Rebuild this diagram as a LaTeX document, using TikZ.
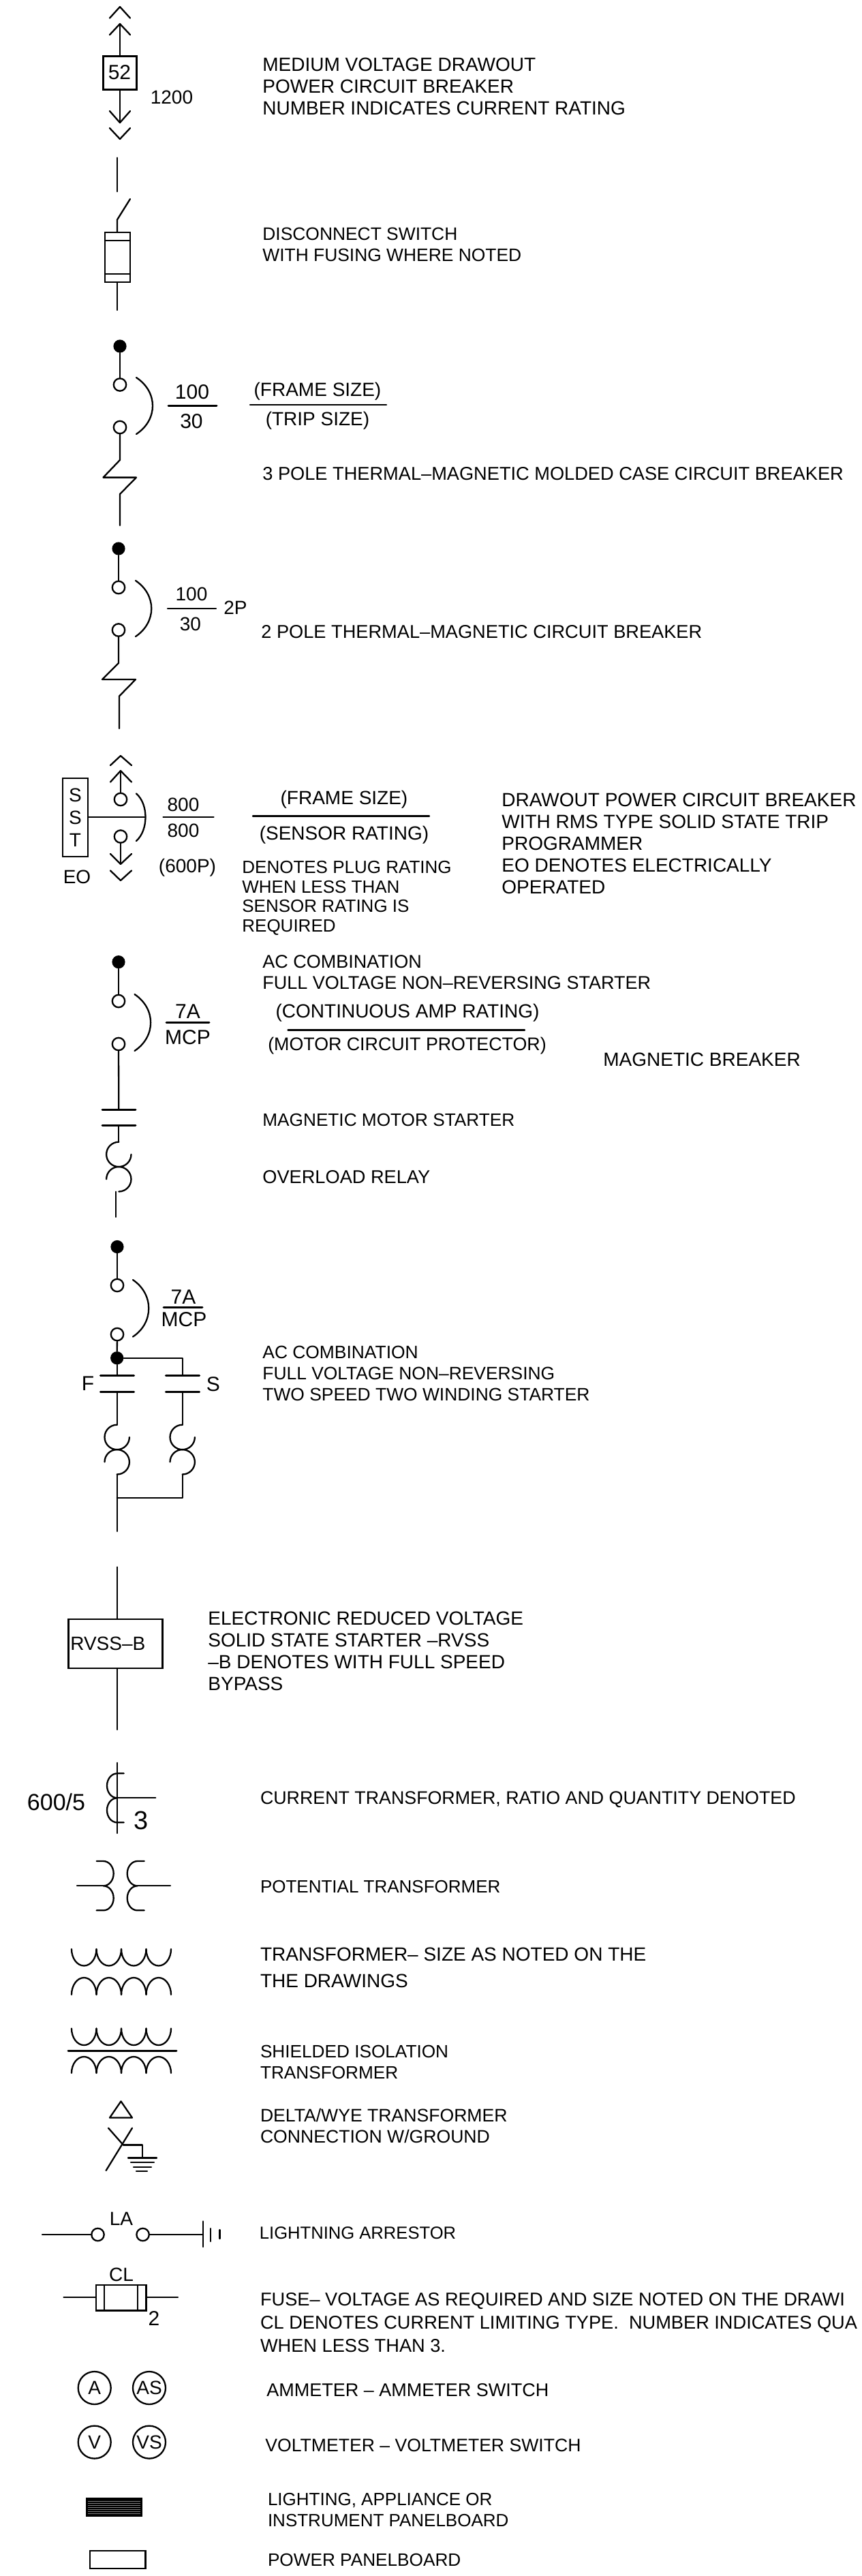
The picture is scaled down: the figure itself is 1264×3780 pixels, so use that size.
\documentclass[tikz,border=0pt]{standalone}
\usepackage{fontspec}
\setmainfont{Liberation Sans}
\tikzset{
    wire/.style={line width=1.15pt,line cap=round,line join=round},
    heavy/.style={line width=1.5pt,line cap=round},
    note/.style 2 args={font=\fontsize{#1}{#2}\selectfont,align=left,anchor=north west,inner sep=0pt},
    lab/.style={font=\fontsize{14}{16}\selectfont,inner sep=0pt},
    tag/.style={font=\fontsize{15}{17}\selectfont,inner sep=0pt},
    contact/.style={circle,draw,line width=1.15pt,minimum size=9.2pt,inner sep=0pt},
    pole/.style={circle,fill=black,minimum size=9.6pt,inner sep=0pt},
    meter/.style={circle,draw,line width=1.15pt,minimum size=24pt,inner sep=0pt,font=\fontsize{14}{16}\selectfont},
    panelbox/.style={draw,line width=1.2pt,inner sep=0pt}
}
\begin{document}
\begin{tikzpicture}[x=.5pt,y=-.5pt]
    \useasboundingbox (0,0) rectangle (1264,3780);

    \node[panelbox,tag,line width=1.5pt,minimum width=24.5pt,minimum height=24.5pt] (b52) at (175.5,106.5) {52};
    \coordinate (a1) at (176,35);
    \coordinate (a2) at (176,180);
    \draw[wire] (161,26.5) -- (176,10) -- (191,26.5);
    \draw[wire] (161,51) -- (a1) -- (191,51);
    \draw[wire] (a1) -- (a1 |- b52.north);
    \draw[wire] (a2 |- b52.south) -- (a2);
    \draw[wire] (161,163) -- (a2) -- (191,163);
    \draw[wire] (161,188) -- (176,204) -- (191,188);
    \node[lab] (r1200) at (252,143) {1200};
    \node[note={14}{16}] (t1) at (385,85) {MEDIUM VOLTAGE DRAWOUT\\POWER CIRCUIT BREAKER\\NUMBER INDICATES CURRENT RATING};

    \coordinate (s1) at (172,231.4);
    \coordinate (s2) at (172,281);
    \coordinate (s3) at (172,322.4);
    \coordinate (s4) at (172,455);
    \node[panelbox,minimum width=18.5pt,minimum height=36.5pt] (fu1) at (172.5,377.5) {};
    \draw[wire] (s1) -- (s2);
    \draw[wire] (191,292) -- (s3) -- (s3 |- fu1.north);
    \draw[wire] (s4 |- fu1.south) -- (s4);
    \draw[wire] (154,353) -- (191,353);
    \draw[wire] (154,402) -- (191,402);
    \node[note={13.2}{15.5}] (t2) at (385,334) {DISCONNECT SWITCH\\WITH FUSING WHERE NOTED};

    \node[pole] (d3) at (176,508) {};
    \node[contact] (o3a) at (176,564.5) {};
    \node[contact] (o3b) at (176,627) {};
    \coordinate (e3) at (176,771);
    \draw[wire] (d3) -- (o3a);
    \draw[wire] (o3b.south) -- (176,675) -- (151.5,700.6) -- (200,700.6) -- (176,725) -- (e3);
    \draw[wire] (200,554) .. controls (232,575) and (232,616) .. (200,637);
    \node[tag] (n3a) at (282,575) {100};
    \node[tag] (n3b) at (281,618) {30};
    \draw[heavy] (247,595.5) -- (318,595.5);
    \node[lab] (f3a) at (466,574) {(FRAME SIZE)};
    \node[lab] (f3b) at (466,617) {(TRIP SIZE)};
    \draw[wire] (367,594) -- (567,594);
    \node[note={13.6}{16}] (t3) at (385,685) {3 POLE THERMAL–MAGNETIC MOLDED CASE CIRCUIT BREAKER};

    \node[pole] (d4) at (174,805) {};
    \node[contact] (o4a) at (174,862) {};
    \node[contact] (o4b) at (174,924.5) {};
    \coordinate (e4) at (175,1069);
    \draw[wire] (d4) -- (o4a);
    \draw[wire] (o4b.south) -- (174,973) -- (150,997) -- (199,997) -- (175,1021.5) -- (e4);
    \draw[wire] (199,852) .. controls (230,873) and (230,913) .. (199,934);
    \node[lab] (n4a) at (281,872) {100};
    \node[lab] (n4b) at (279.5,916) {30};
    \node[lab] (n4c) at (345.5,891.5) {2P};
    \draw[wire] (246,893) -- (317,893);
    \node[note={13.6}{16}] (t4) at (383,917) {2 POLE THERMAL–MAGNETIC CIRCUIT BREAKER};

    \node[contact] (o5a) at (177,1173) {};
    \node[contact] (o5b) at (177,1227.5) {};
    \coordinate (a5) at (177,1131);
    \coordinate (b5) at (177,1268);
    \draw[wire] (162,1123) -- (177,1109) -- (193,1123);
    \draw[wire] (162,1147.5) -- (a5) -- (193,1147.5);
    \draw[wire] (a5) -- (o5a);
    \draw[wire] (o5b) -- (b5);
    \draw[wire] (162,1253) -- (b5) -- (193,1253);
    \draw[wire] (162,1277.5) -- (177,1292) -- (193,1277.5);
    \node[panelbox,font=\fontsize{14}{16.5}\selectfont,align=center,minimum width=18.5pt,minimum height=57.5pt] (sst) at (110.5,1199.5) {S\\S\\T};
    \coordinate (c5) at (213.6,1199);
    \draw[wire] (sst.east |- c5) -- (c5);
    \draw[wire] (200,1164.5) .. controls (218,1180) and (218,1218) .. (200,1234);
    \node[lab] (e5) at (113,1287) {EO};
    \node[lab] (n5a) at (269,1181) {800};
    \node[lab] (n5b) at (269,1219) {800};
    \draw[wire] (239.5,1199) -- (313.6,1199);
    \node[lab] (p5) at (275,1273.5) {(600P)};
    \node[lab] (f5a) at (505,1173) {(FRAME SIZE)};
    \node[lab] (f5b) at (505,1225.5) {(SENSOR RATING)};
    \draw[wire] (371,1197.5) -- (630,1197.5);
    \node[note={13}{14.25}] (t5a) at (355,1263) {DENOTES PLUG RATING\\WHEN LESS THAN\\SENSOR RATING IS\\REQUIRED};
    \node[note={14}{16}] (t5b) at (736,1164) {DRAWOUT POWER CIRCUIT BREAKER\\WITH RMS TYPE SOLID STATE TRIP\\PROGRAMMER\\EO DENOTES ELECTRICALLY\\OPERATED};

    \node[pole] (d6) at (174,1411.6) {};
    \node[contact] (o6a) at (174,1469) {};
    \node[contact] (o6b) at (174,1532) {};
    \coordinate (g6) at (174.3,1628.6);
    \coordinate (h6) at (174.3,1651.5);
    \draw[wire] (d6) -- (o6a);
    \draw[wire] (o6b) -- (g6);
    \draw[heavy] (150,1628.6) -- (199,1628.6);
    \draw[heavy] (150,1651.5) -- (199,1651.5);
    \draw[wire] (h6) -- (174.3,1675.7);
    \draw[wire] (197.5,1459) .. controls (229,1480) and (229,1521) .. (197.5,1542);
    \node[tag] (n6a) at (275.5,1484) {7A};
    \node[tag] (n6b) at (275.5,1522.6) {MCP};
    \draw[heavy] (244,1500.5) -- (307,1500.5);
    \node[note={13.5}{15.5}] (t6a) at (385,1401) {AC COMBINATION\\FULL VOLTAGE NON–REVERSING STARTER};
    \node[lab] (f6a) at (598,1486) {(CONTINUOUS AMP RATING)};
    \node[lab,font=\fontsize{13.4}{16}\selectfont] (f6b) at (597.5,1535) {(MOTOR CIRCUIT PROTECTOR)};
    \draw[wire] (422.5,1511.5) -- (770,1511.5);
    \node[note={14}{16}] (t6b) at (885,1545) {MAGNETIC BREAKER};
    \node[note={13.1}{16}] (t6c) at (385,1634) {MAGNETIC MOTOR STARTER};
    \node[note={13.6}{16}] (t6d) at (385,1717) {OVERLOAD RELAY};
    \coordinate (o61) at (170,1748.6);
    \coordinate (o62) at (170,1785.7);
    \draw[wire] (o61) -- (o62);

    \foreach \x/\y in {174.3/1675.7,171.7/2090.7,267.7/2090.7}{
        \draw[wire] (\x,\y) arc (-90:-360:18.2);
        \draw[wire] (\x-18.2,\y+54.6) arc (-180:90:18.2);
    }

    \node[pole] (d7) at (172,1829.5) {};
    \node[contact] (o7a) at (172,1886) {};
    \node[contact] (o7b) at (172,1958) {};
    \node[pole] (j7) at (171.7,1992.7) {};
    \coordinate (l7) at (171.7,2018);
    \coordinate (k7) at (267.7,1992.7);
    \coordinate (m7) at (267.7,2018);
    \coordinate (p7) at (171.7,2042.3);
    \coordinate (q7) at (267.7,2042.3);
    \coordinate (u7) at (171.7,2198.3);
    \coordinate (v7) at (267.7,2198.3);
    \coordinate (w7) at (171.7,2247);
    \draw[wire] (d7) -- (o7a);
    \draw[wire] (o7b) -- (j7);
    \draw[wire] (j7) -- (l7);
    \draw[wire] (j7) -- (k7) -- (m7);
    \draw[wire] (p7) -- (171.7,2090.7);
    \draw[wire] (q7) -- (267.7,2090.7);
    \draw[wire] (171.7,2163.5) -- (w7);
    \draw[wire] (267.7,2163.5) -- (v7) -- (u7);
    \foreach \x in {147.3,243.3}{
        \draw[heavy] (\x,2018) -- (\x+49.4,2018);
        \draw[heavy] (\x,2042.3) -- (\x+49.4,2042.3);
    }
    \draw[wire] (195,1878) .. controls (226,1899) and (226,1941) .. (195,1961.5);
    \node[tag] (n7a) at (269,1903) {7A};
    \node[tag] (n7b) at (270,1936) {MCP};
    \draw[heavy] (240,1918) -- (297,1918);
    \node[tag] (lf7) at (129,2030) {F};
    \node[tag] (ls7) at (313,2031) {S};
    \node[note={13.2}{15.5}] (t7) at (385,1975) {AC COMBINATION\\FULL VOLTAGE NON–REVERSING\\TWO SPEED TWO WINDING STARTER};

    \node[panelbox,lab,text width=66pt,align=left,inner xsep=1.5pt,minimum height=35.8pt] (rvss) at (169.3,2412) {RVSS–B};
    \coordinate (r1) at (172,2299.4);
    \coordinate (r2) at (172,2538);
    \draw[wire] (r1) -- (r1 |- rvss.north);
    \draw[wire] (r2 |- rvss.south) -- (r2);
    \node[note={14}{16}] (t8) at (305,2365) {ELECTRONIC REDUCED VOLTAGE\\SOLID STATE STARTER –RVSS\\–B DENOTES WITH FULL SPEED\\BYPASS};

    \draw[wire] (172,2586.7) -- (172,2690);
    \draw[wire] (181.7,2602.3) -- (172,2602.3) arc (-90:-270:15 and 18);
    \draw[wire] (172,2638.3) arc (-90:-270:15 and 18) -- (181.7,2674.3);
    \draw[wire] (172,2638.3) -- (228.3,2638.3);
    \node[tag,font=\fontsize{17}{19}\selectfont] (n9a) at (82.5,2644) {600/5};
    \node[tag,font=\fontsize{19}{21}\selectfont] (n9b) at (207,2671.5) {3};
    \node[note={13.4}{16}] (t9) at (381.6,2628) {CURRENT TRANSFORMER, RATIO AND QUANTITY DENOTED};

    \draw[wire] (113,2767.3) -- (151.7,2767.3);
    \draw[wire] (141.7,2731) -- (151.7,2731) arc (-90:90:15 and 18.15) arc (-90:90:15 and 18) -- (141.7,2803.3);
    \draw[wire] (250,2767.3) -- (201.7,2767.3);
    \draw[wire] (211.7,2731) -- (201.7,2731) arc (-90:-270:15 and 18.15) arc (-90:-270:15 and 18) -- (211.7,2803.3);
    \node[note={13}{16}] (t10) at (381.6,2759) {POTENTIAL TRANSFORMER};

    \foreach \i in {0,...,3}{
        \draw[wire] (105+36.5*\i,2860) arc (180:0:18.25 and 24.5);
        \draw[wire] (105+36.5*\i,2927) arc (-180:0:18.25 and 25);
        \draw[wire] (105+36.5*\i,2976.5) arc (180:0:18.25 and 24.5);
        \draw[wire] (105+36.5*\i,3042) arc (-180:0:18.25 and 24);
    }
    \draw[heavy] (100,3009.5) -- (259,3009.5);
    \node[note={14}{19.5}] (t11) at (381.6,2858) {TRANSFORMER– SIZE AS NOTED ON THE\\THE DRAWINGS};
    \node[note={13.1}{15.5}] (t12) at (381.6,3001) {SHIELDED ISOLATION\\TRANSFORMER};

    \draw[wire] (161,3107.5) -- (177.5,3083.4) -- (194,3107.5) -- cycle;
    \coordinate (y1) at (181,3147.6);
    \coordinate (y2) at (209,3147.6);
    \coordinate (y3) at (209,3166.5);
    \draw[wire] (159,3122.6) -- (y1);
    \draw[wire] (194,3122.6) -- (155.6,3185);
    \draw[wire] (y1) -- (y2) -- (y3);
    \draw[wire] (188,3166.5) -- (230,3166.5);
    \draw[wire] (192,3173) -- (226,3173);
    \draw[wire] (196,3180) -- (222,3180);
    \draw[wire] (200,3186) -- (216,3186);
    \node[note={13.3}{15.5}] (t13) at (381.6,3094) {DELTA/WYE TRANSFORMER\\CONNECTION W/GROUND};

    \node[contact] (la1) at (143.5,3279) {};
    \node[contact] (la2) at (209.6,3279) {};
    \coordinate (l1) at (62,3279);
    \coordinate (l2) at (298,3279);
    \draw[wire] (l1) -- (la1);
    \draw[wire] (la2) -- (l2);
    \draw[wire] (298,3259.5) -- (298,3297);
    \draw[wire] (308.7,3270) -- (308.7,3289);
    \draw[wire] (322.5,3272) -- (322.5,3285);
    \node[lab] (n14) at (178,3255.6) {LA};
    \node[note={12.8}{16}] (t14) at (380.5,3267) {LIGHTNING ARRESTOR};

    \node[panelbox,minimum width=36.7pt,minimum height=18.8pt] (fu2) at (177.7,3371.8) {};
    \coordinate (f1) at (93.5,3371);
    \coordinate (f2) at (261,3371);
    \draw[wire] (f1) -- (f1 -| fu2.west);
    \draw[wire] (f2 -| fu2.east) -- (f2);
    \draw[wire] (153,3353) -- (153,3390.6);
    \draw[wire] (202,3353) -- (202,3390.6);
    \node[lab] (n15a) at (178,3338) {CL};
    \node[tag] (n15b) at (226,3401.5) {2};
    \node[note={13.6}{17}] (t15) at (381.6,3364) {FUSE– VOLTAGE AS REQUIRED AND SIZE NOTED ON THE DRAWI\\CL DENOTES CURRENT LIMITING TYPE.\ \ NUMBER INDICATES QUA\\WHEN LESS THAN 3.};

    \node[meter] (ma) at (138.7,3504) {A};
    \node[meter] (mas) at (219,3504) {AS};
    \node[meter] (mv) at (138.7,3583.6) {V};
    \node[meter] (mvs) at (219,3583.6) {VS};
    \node[note={13.5}{16}] (t16) at (391,3497) {AMMETER – AMMETER SWITCH};
    \node[note={13.3}{16}] (t17) at (389,3578.5) {VOLTMETER – VOLTMETER SWITCH};

    \node[fill=black,draw,inner sep=0pt,minimum width=40.8pt,minimum height=13.3pt] (pb1) at (167.5,3679) {};
    \foreach \y in {3670,3673.2,3676.3,3679.3,3682.3,3685.3,3688.3}{
        \draw[gray,line width=.3pt] (129.3,\y) -- (206,\y);
    }
    \node[note={13}{15.5}] (t18) at (392.6,3658) {LIGHTING, APPLIANCE OR\\INSTRUMENT PANELBOARD};

    \node[panelbox,minimum width=40.8pt,minimum height=13pt] (pb2) at (172.8,3756) {};
    \node[note={13.1}{16}] (t19) at (392.6,3747) {POWER PANELBOARD};
\end{tikzpicture}
\end{document}
